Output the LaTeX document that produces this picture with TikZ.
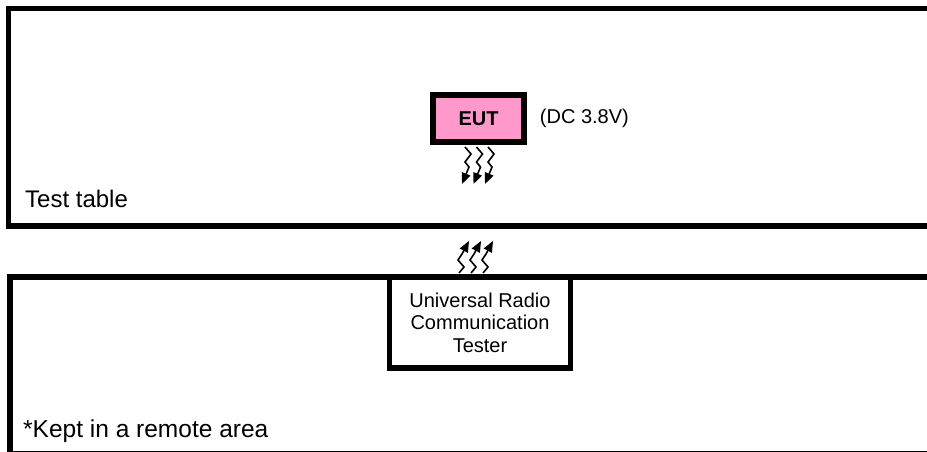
\documentclass[tikz,border=0pt]{standalone}
\usepackage{fontspec}
\setmainfont{Liberation Sans}
\usetikzlibrary{positioning, arrows.meta}
\definecolor{eutpink}{HTML}{FF99CC}

\begin{document}
\begin{tikzpicture}[
    x=1pt, y=-1pt,
    frame/.style={line width=#1},
    box/.style={draw=black, line width=5.5pt, inner sep=0pt, align=center},
    lbl/.style={inner sep=0pt, anchor=base west, font=\fontsize{24}{28}\selectfont},
    wave/.style={line width=1.6pt, -{Triangle[length=11pt, width=9pt]}}
]
    \useasboundingbox (0,0) rectangle (927,452);

    % Test table
    \draw[frame=5.5pt] (935,8.5) -- (8.5,8.5) -- (8.5,226) -- (935,226);
    \node[lbl] (table) at (25,207) {Test table};

    % EUT and its supply
    \node[box, fill=eutpink, minimum width=91pt, minimum height=47pt,
          font=\bfseries\fontsize{20}{22}\selectfont] (eut) at (478.5,118.5) {EUT};
    \node[lbl, font=\fontsize{20}{22}\selectfont, right=13pt of eut] (dc) {(DC 3.8V)};

    % Radio waves from EUT
    \foreach \i in {0,1,2}
        \draw[wave] (465+\i*11.5,147) -- ++(6,7) -- ++(-6,8) -- ++(4,5) -- ++(-7,17);

    % Radio waves from tester
    \foreach \i in {0,1,2}
        \draw[wave] (459+\i*12,273) -- ++(5,-6) -- ++(-6,-7) -- ++(4,-6) -- ++(7,-13);

    % Remote area
    \draw[frame=5.5pt] (935,277) -- (10,277) -- (10,454) -- (935,454);
    \node[lbl, font=\fontsize{24.5}{28}\selectfont] (remote) at (23,437) {*Kept in a remote area};

    % Tester
    \node[box, minimum width=181pt, minimum height=91pt,
          font=\fontsize{20}{22.5}\selectfont] (tester) at (480,322.5)
          {Universal Radio\\Communication\\Tester};
\end{tikzpicture}
\end{document}
